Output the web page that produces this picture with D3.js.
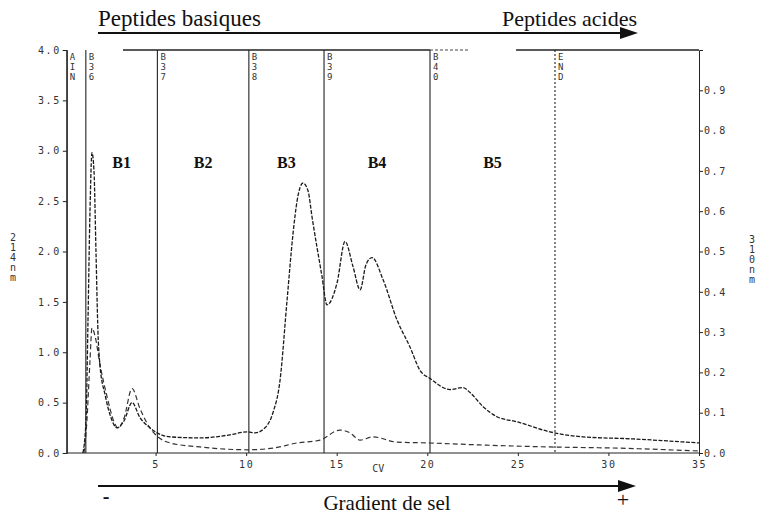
<!DOCTYPE html>
<html>
<head>
<meta charset="utf-8">
<script src="https://cdn.jsdelivr.net/npm/d3@7"></script>
<style>
  body { margin: 0; background: #fff; }
  svg { display: block; }
  .tick text { font-family: "DejaVu Sans Mono", monospace; font-size: 10px; fill: #333; letter-spacing: 1.6px; }
  .axis path, .axis line { stroke: #222; }
  .titre { font-family: "Liberation Serif", "Times New Roman", serif; fill: #111; }
  .bande { font-family: "Liberation Serif", serif; font-weight: bold; font-size: 16px; fill: #111; }
  .mono { font-family: "DejaVu Sans Mono", monospace; font-size: 9px; fill: #333; }
</style>
</head>
<body>
<svg id="chrom" width="763" height="516"></svg>
<script>
// trace 214 nm (axe gauche, UA)
const cv214 = [0.99, 1.16, 1.27, 1.38, 1.49, 1.6, 1.71, 1.82, 1.93, 2.21, 2.54, 2.87, 3.26, 3.7, 4.14, 4.69, 5.08, 5.8, 7.45, 9.1, 10.05, 10.49, 11.04, 11.48, 11.87, 12.26, 12.59, 12.81, 13.14, 13.42, 13.64, 14.19, 14.46, 15.02, 15.46, 15.9, 16.29, 16.62, 16.95, 17.56, 18.33, 19.05, 19.6, 20.15, 21.25, 21.97, 22.36, 23.08, 23.85, 24.95, 26.77, 28.6, 31.36, 34.1, 35]
const abs214 = [0, 0.33, 1.32, 2.41, 2.98, 2.8, 2.0, 1.2, 0.87, 0.58, 0.35, 0.25, 0.32, 0.5, 0.35, 0.25, 0.2, 0.16, 0.15, 0.18, 0.21, 0.2, 0.25, 0.4, 0.72, 1.52, 2.18, 2.5, 2.68, 2.6, 2.34, 1.75, 1.47, 1.69, 2.1, 1.85, 1.62, 1.87, 1.94, 1.72, 1.32, 1.05, 0.82, 0.74, 0.63, 0.65, 0.6, 0.46, 0.36, 0.31, 0.21, 0.16, 0.14, 0.11, 0.1]

// trace 310 nm (axe droit)
const cv310 = [1.05, 1.21, 1.38, 1.49, 1.66, 1.93, 2.32, 2.71, 2.93, 3.26, 3.7, 4.14, 4.69, 5.08, 5.8, 7.45, 10.05, 11.48, 12.81, 14.08, 15.18, 15.73, 16.29, 17.0, 18.33, 19.98, 22.9, 26.77, 30.6, 35]
const abs310 = [0, 0.08, 0.23, 0.31, 0.29, 0.22, 0.14, 0.077, 0.062, 0.087, 0.16, 0.11, 0.062, 0.042, 0.025, 0.015, 0.008, 0.012, 0.025, 0.032, 0.057, 0.05, 0.032, 0.04, 0.027, 0.025, 0.02, 0.015, 0.012, 0.005]

// fractions
const fracPos = [0.1, 1.15, 5.1, 10.15, 14.3, 20.15, 27.05]
const fracNoms = ['AIN', 'B36', 'B37', 'B38', 'B39', 'B40', 'END']
const bandes = ['B1', 'B2', 'B3', 'B4', 'B5']

const ticksGauche = [0, 0.5, 1, 1.5, 2, 2.5, 3, 3.5, 4]
const ticksDroite = [0, 0.1, 0.2, 0.3, 0.4, 0.5, 0.6, 0.7, 0.8, 0.9]
const ticksCV = [5, 10, 15, 20, 25, 30, 35]

const svg = d3.select('#chrom')

const xScale = d3.scaleLinear().domain([0, 35]).range([65, 699])
const yGauche = d3.scaleLinear().domain([0, 4]).range([453, 50])
const yDroite = d3.scaleLinear().domain([0, 1]).range([453, 50])

/*axes*/
svg.append('g')
    .attr('class', 'axis')
    .attr('transform', `translate(${xScale(0.1)}, 0)`)
    .call(d3.axisLeft(yGauche).tickValues(ticksGauche).tickSize(4).tickPadding(2).tickFormat(d3.format('.1f')))

svg.append('g')
    .attr('class', 'axis')
    .attr('transform', `translate(${xScale(35)}, 0)`)
    .call(d3.axisRight(yDroite).tickValues(ticksDroite).tickSize(4).tickPadding(1).tickFormat(d3.format('.1f')))

const axeX = svg.append('g')
    .attr('class', 'axis')
    .attr('transform', `translate(0, ${yGauche(0)})`)
    .call(d3.axisBottom(xScale).tickValues(ticksCV).tickSize(3).tickSizeOuter(0))
axeX.select('.domain').attr('d', `M${xScale(0.1)},0H${xScale(35)}`)
axeX.selectAll('.tick text').attr('dy', '0.9em')

svg.append('text').attr('class', 'mono')
    .attr('x', xScale(17.3)).attr('y', 472)
    .attr('text-anchor', 'middle')
    .style('font-size', '10px')
    .text('CV')

/*titres d'axes verticaux*/
function empiler(txt, x, y0) {
    svg.append('g').selectAll('text')
        .data(txt.split(''))
        .enter()
        .append('text')
        .attr('class', 'mono')
        .attr('x', x)
        .attr('y', (d, i) => y0 + i * 10)
        .attr('text-anchor', 'middle')
        .style('font-size', '10px')
        .text(d => d)
}
empiler('214nm', 13, 241)
empiler('310nm', 752, 243)

/*cadre du haut*/
svg.append('line')
    .attr('x1', xScale(3.2)).attr('x2', xScale(20.15))
    .attr('y1', yGauche(4)).attr('y2', yGauche(4))
    .attr('stroke', '#222').attr('stroke-width', 1.3)
svg.append('line')
    .attr('x1', xScale(20.15)).attr('x2', xScale(22.3))
    .attr('y1', yGauche(4)).attr('y2', yGauche(4))
    .attr('stroke', '#444').attr('stroke-dasharray', '3,2')
svg.append('line')
    .attr('x1', xScale(24.9)).attr('x2', xScale(35))
    .attr('y1', yGauche(4)).attr('y2', yGauche(4))
    .attr('stroke', '#222').attr('stroke-width', 1.3)

/*marqueurs de fractions*/
const frac = svg.selectAll('.frac')
    .data(fracPos)
    .enter()
    .append('g')
    .attr('class', 'frac')

frac.append('line')
    .attr('x1', d => xScale(d)).attr('x2', d => xScale(d))
    .attr('y1', yGauche(4)).attr('y2', yGauche(0))
    .attr('stroke', '#222')
    .attr('stroke-width', 1.1)
    .attr('stroke-dasharray', (d, i) => fracNoms[i] === 'END' ? '2,2' : null)

frac.each(function (d, i) {
    d3.select(this).selectAll('text')
        .data(fracNoms[i].split(''))
        .enter()
        .append('text')
        .attr('class', 'mono')
        .attr('x', xScale(d) + 3)
        .attr('y', (c, j) => 60 + j * 10)
        .text(c => c)
})

svg.selectAll('.bande')
    .data(bandes)
    .enter()
    .append('text')
    .attr('class', 'bande')
    .attr('x', (d, i) => xScale((fracPos[i + 1] + fracPos[i + 2]) / 2))
    .attr('y', 168)
    .attr('text-anchor', 'middle')
    .text(d => d)

/*traces*/
const data214 = cv214.map((v, i) => ({ cv: v, a: abs214[i] }))
const data310 = cv310.map((v, i) => ({ cv: v, a: abs310[i] }))

svg.append('path')
    .datum(data310)
    .attr('fill', 'none')
    .attr('stroke', '#333')
    .attr('stroke-width', 1.2)
    .attr('stroke-dasharray', '5,3')
    .attr('d', d3.line().x(d => xScale(d.cv)).y(d => yDroite(d.a)).curve(d3.curveMonotoneX))

svg.append('path')
    .datum(data214)
    .attr('fill', 'none')
    .attr('stroke', '#1a1a1a')
    .attr('stroke-width', 1.3)
    .attr('stroke-dasharray', '4,1.5')
    .attr('d', d3.line().x(d => xScale(d.cv)).y(d => yGauche(d.a)).curve(d3.curveMonotoneX))

/*fleches*/
function fleche(y, x1, x2) {
    svg.append('line')
        .attr('x1', x1).attr('x2', x2 - 14)
        .attr('y1', y).attr('y2', y)
        .attr('stroke', '#111').attr('stroke-width', 2.2)
    svg.append('path')
        .attr('d', `M${x2},${y}L${x2 - 18},${y - 6}L${x2 - 18},${y + 6}Z`)
        .attr('fill', '#111')
}
fleche(33, 98, 638)
fleche(486, 98, 636)

svg.append('text').attr('class', 'titre')
    .attr('x', 98).attr('y', 26).style('font-size', '23px')
    .text('Peptides basiques')
svg.append('text').attr('class', 'titre')
    .attr('x', 637).attr('y', 26).attr('text-anchor', 'end').style('font-size', '22px')
    .text('Peptides acides')
svg.append('text').attr('class', 'titre')
    .attr('x', 387).attr('y', 510).attr('text-anchor', 'middle').style('font-size', '21px')
    .text('Gradient de sel')
svg.append('text').attr('class', 'titre')
    .attr('x', 106).attr('y', 503).attr('text-anchor', 'middle').style('font-size', '20px').style('font-weight', 'bold')
    .text('-')
svg.append('text').attr('class', 'titre')
    .attr('x', 623).attr('y', 507).attr('text-anchor', 'middle').style('font-size', '22px')
    .text('+')
</script>
</body>
</html>
